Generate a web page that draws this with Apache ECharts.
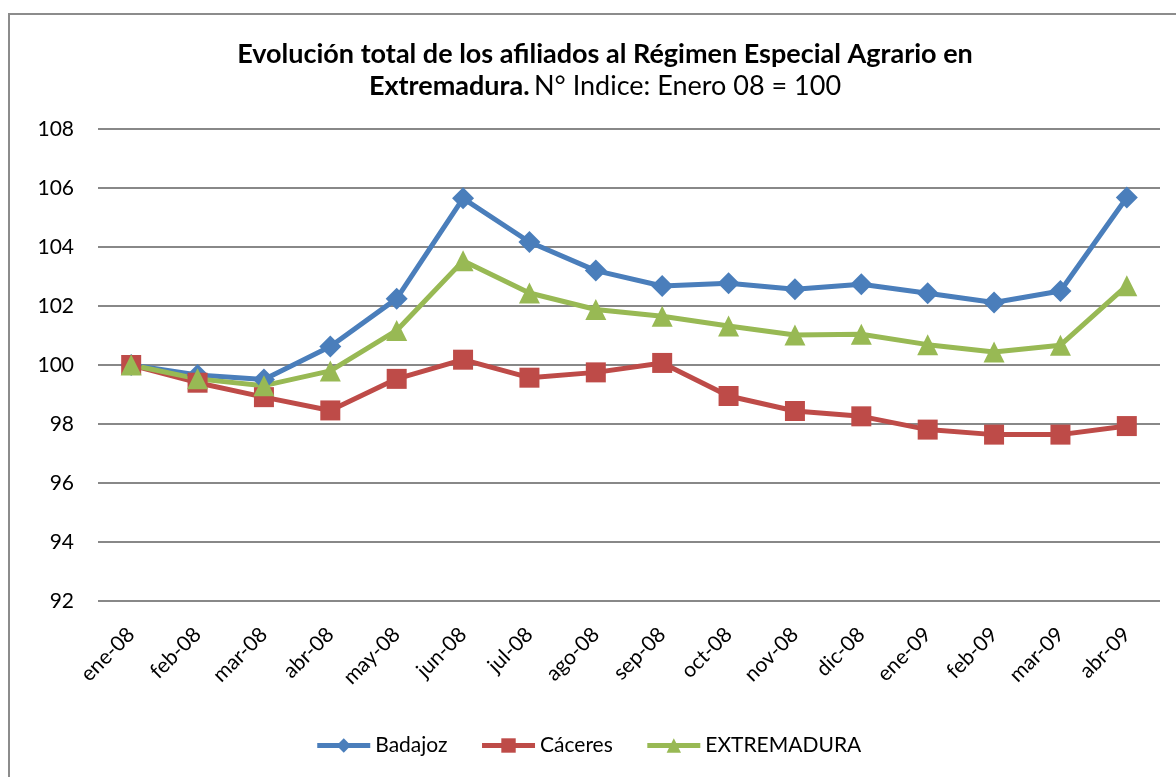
<!DOCTYPE html>
<html>
<head>
<meta charset="utf-8">
<script src="https://cdn.jsdelivr.net/npm/echarts@6/dist/echarts.min.js"></script>
<style>
  html, body { margin: 0; padding: 0; background: #fff; }
  #chart { width: 1176px; height: 777px; }
</style>
</head>
<body>
<div id="chart"></div>
<script>
// months on the x axis
const months = ['ene-08', 'feb-08', 'mar-08', 'abr-08', 'may-08', 'jun-08', 'jul-08', 'ago-08',
  'sep-08', 'oct-08', 'nov-08', 'dic-08', 'ene-09', 'feb-09', 'mar-09', 'abr-09'];

// index values, Enero 08 = 100
const badajoz = [100, 99.66, 99.51, 100.63, 102.25, 105.65, 104.17, 103.2,
  102.68, 102.77, 102.57, 102.74, 102.43, 102.12, 102.51, 105.68];
const caceres = [100, 99.4, 98.91, 98.46, 99.53, 100.18, 99.57, 99.75,
  100.07, 98.95, 98.44, 98.26, 97.81, 97.64, 97.64, 97.93];
const extremadura = [100, 99.53, 99.3, 99.8, 101.17, 103.53, 102.44, 101.88,
  101.65, 101.32, 101.02, 101.04, 100.69, 100.44, 100.67, 102.69];

const FONT = 'Lato';

const chart = echarts.init(document.getElementById('chart'));

function lineSeries(name, data, color, symbol, size) {
  return {
    name: name,
    type: 'line',
    data: data,
    symbol: symbol,
    symbolSize: size,
    showAllSymbol: true,
    lineStyle: { color: color, width: 5 },
    itemStyle: { color: color },
    emphasis: { disabled: true },
    z: 3
  };
}

chart.setOption({
  animation: false,
  backgroundColor: '#fff',
  textStyle: { fontFamily: FONT },
  graphic: [{
    type: 'rect',
    shape: { x: 9, y: 14, width: 1200, height: 800 },
    style: { fill: 'none', stroke: '#8c8c8c', lineWidth: 2 },
    silent: true
  }],
  title: {
    left: 600,
    top: 33,
    textAlign: 'center',
    text: '{b|Evolución total de los afiliados al Régimen Especial Agrario en}\n{b|Extremadura.} {n|N° Indice: Enero 08 = 100}',
    textStyle: {
      rich: {
        b: { fontFamily: FONT, fontWeight: 'bold', fontSize: 27, color: '#000', lineHeight: 32 },
        n: { fontFamily: FONT, fontWeight: 'normal', fontSize: 27, color: '#000', lineHeight: 32 }
      }
    }
  },
  legend: {
    bottom: 16,
    left: 'center',
    itemWidth: 53,
    itemHeight: 18,
    itemGap: 32,
    lineStyle: { width: 5 },
    textStyle: { fontFamily: FONT, fontSize: 21, color: '#000' },
    data: ['Badajoz', 'Cáceres', 'EXTREMADURA']
  },
  grid: { left: 98, right: 16, top: 129, bottom: 176 },
  xAxis: {
    type: 'category',
    data: months,
    boundaryGap: true,
    axisLine: { show: false },
    axisTick: { show: false },
    axisLabel: {
      rotate: 45,
      margin: 30,
      fontFamily: FONT,
      fontSize: 21,
      color: '#000'
    }
  },
  yAxis: {
    type: 'value',
    min: 92,
    max: 108,
    interval: 2,
    axisLine: { show: false },
    axisTick: { show: false },
    splitLine: { lineStyle: { color: '#888', width: 2 } },
    axisLabel: {
      margin: 24,
      fontFamily: FONT,
      fontSize: 21,
      color: '#000'
    }
  },
  series: [
    lineSeries('Badajoz', badajoz, '#4A7EBB', 'diamond', 22),
    lineSeries('Cáceres', caceres, '#BE4B48', 'rect', 20),
    lineSeries('EXTREMADURA', extremadura, '#98B954', 'triangle', 21)
  ]
});
</script>
</body>
</html>
